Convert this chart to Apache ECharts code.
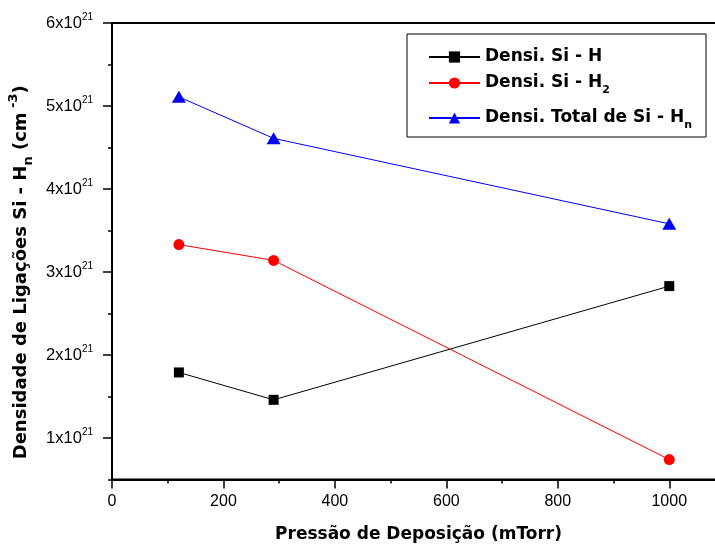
<!DOCTYPE html>
<html><head><meta charset="utf-8">
<script src="https://cdn.jsdelivr.net/npm/echarts@6/dist/echarts.min.js"></script>
<style>html,body{margin:0;padding:0;background:#fff}#c{width:715px;height:545px}</style>
</head><body><div id="c"></div>
<script>
// Data (y values in units of 10^21 cm^-3)
const pressure = [120, 290, 1000];
const densSiH = [1.79, 1.46, 2.83];
const densSiH2 = [3.33, 3.14, 0.74];
const densTotal = [5.11, 4.61, 3.58];
const seriesNames = ['Densi. Si - H', 'Densi. Si - H2', 'Densi. Total de Si - Hn'];
const legendLabels = ['Densi. Si - H', 'Densi. Si - H{sub|2}', 'Densi. Total de Si - H{sub|n}'];
const xTickLabels = [0, 200, 400, 600, 800, 1000];
const yTickLabels = [1, 2, 3, 4, 5, 6]; // x10^21
const yMin = 0.5, yMax = 6, yMinorStep = 0.5;
const xMin = 0, xMax = 1100, xMinorStep = 100, xMajorStep = 200;

const BOLD = 'DejaVu Sans';
const REG = 'Liberation Sans';

// category positions for y major ticks/labels (one per minor step)
const yCats = [];
for (let v = yMin; v <= yMax + 1e-9; v += yMinorStep) yCats.push(String(Math.round(v * 100) / 100));
const isMajorY = (i) => yTickLabels.indexOf(Number(yCats[i])) >= 0;

const chart = echarts.init(document.getElementById('c'), null, {renderer: 'canvas'});
const symbols = ['rect', 'circle', 'triangle'];
const sizes = [10, 11, [14, 12]];
const colors = ['#000000', '#ff0000', '#0000ff'];
const datas = [densSiH, densSiH2, densTotal];
const legendTops = [44, 70, 105];

const legends = seriesNames.map((n, i) => ({
  data: [n], left: 428, top: legendTops[i], padding: 0,
  itemWidth: 51, itemHeight: 14, itemGap: 0, selectedMode: false,
  formatter: () => legendLabels[i],
  textStyle: {
    fontFamily: BOLD, fontWeight: 'bold', fontSize: 17, color: '#000', lineHeight: 26,
    rich: {sub: {fontFamily: BOLD, fontWeight: 'bold', fontSize: 11, color: '#000', lineHeight: 11, verticalAlign: 'bottom'}}
  }
}));

chart.setOption({
  animation: false,
  backgroundColor: '#fff',
  grid: {left: 112, top: 23, width: 613, height: 456.5, outerBoundsMode: 'none', containLabel: false,
    show: true, borderColor: '#000', borderWidth: 2, backgroundColor: 'transparent'},
  legend: legends,
  graphic: [{type: 'rect', shape: {x: 407, y: 34, width: 299, height: 103}, style: {fill: 'none', stroke: '#000', lineWidth: 1}, z: 100}],
  xAxis: [{
    type: 'value', min: xMin, max: xMax, interval: xMinorStep, position: 'bottom',
    axisLine: {show: true, lineStyle: {color: '#000', width: 2}},
    axisTick: {show: true, inside: false, length: 4, lineStyle: {color: '#000', width: 1.5}},
    axisLabel: {show: false}, splitLine: {show: false}
  }, {
    type: 'value', min: xMin, max: xMax, interval: xMajorStep, position: 'bottom',
    axisLine: {show: false},
    axisTick: {show: true, inside: false, length: 9, lineStyle: {color: '#000', width: 1.5}},
    axisLabel: {show: true, margin: 14, fontFamily: REG, fontSize: 16, color: '#000',
      formatter: v => xTickLabels.indexOf(v) >= 0 ? String(v) : ''},
    splitLine: {show: false},
    name: 'Pressão de Deposição (mTorr)', nameLocation: 'middle', nameGap: 47,
    nameTextStyle: {fontFamily: BOLD, fontWeight: 'bold', fontSize: 17, color: '#000'}
  }],
  yAxis: [{
    type: 'value', min: yMin, max: yMax, interval: yMinorStep, position: 'left',
    axisLine: {show: true, lineStyle: {color: '#000', width: 2}},
    axisTick: {show: true, inside: false, length: 4, lineStyle: {color: '#000', width: 1.5}},
    axisLabel: {show: false}, splitLine: {show: false}
  }, {
    type: 'category', data: yCats, boundaryGap: false, position: 'left',
    axisLine: {show: false},
    axisTick: {show: true, inside: false, length: 9, interval: (i) => isMajorY(i), lineStyle: {color: '#000', width: 1.5}},
    axisLabel: {show: true, margin: 19, interval: (i) => isMajorY(i),
      formatter: v => '{a|' + v + 'x10}{s|21}',
      rich: {
        a: {fontFamily: REG, fontSize: 16.5, color: '#000', lineHeight: 22},
        s: {fontFamily: REG, fontSize: 10, color: '#000', lineHeight: 12, verticalAlign: 'top'}
      }},
    splitLine: {show: false},
    name: 'Densidade de Ligações Si - H{sub|n} (cm{sup| -3})', nameLocation: 'middle', nameGap: 65,
    nameTextStyle: {
      fontFamily: BOLD, fontWeight: 'bold', fontSize: 18, color: '#000', lineHeight: 28,
      padding: [0, 42, 0, 0],
      rich: {
        sub: {fontFamily: BOLD, fontWeight: 'bold', fontSize: 13, color: '#000', lineHeight: 12, verticalAlign: 'bottom'},
        sup: {fontFamily: BOLD, fontWeight: 'bold', fontSize: 13, color: '#000', lineHeight: 12, verticalAlign: 'top'}
      }
    }
  }],
  series: seriesNames.map((n, i) => ({
    name: n, type: 'line', xAxisIndex: 0, yAxisIndex: 0,
    data: pressure.map((x, j) => [x, datas[i][j]]),
    symbol: symbols[i], symbolSize: sizes[i], showSymbol: true,
    lineStyle: {color: colors[i], width: 1}, itemStyle: {color: colors[i]},
    z: 2 + i
  }))
});
</script></body></html>
